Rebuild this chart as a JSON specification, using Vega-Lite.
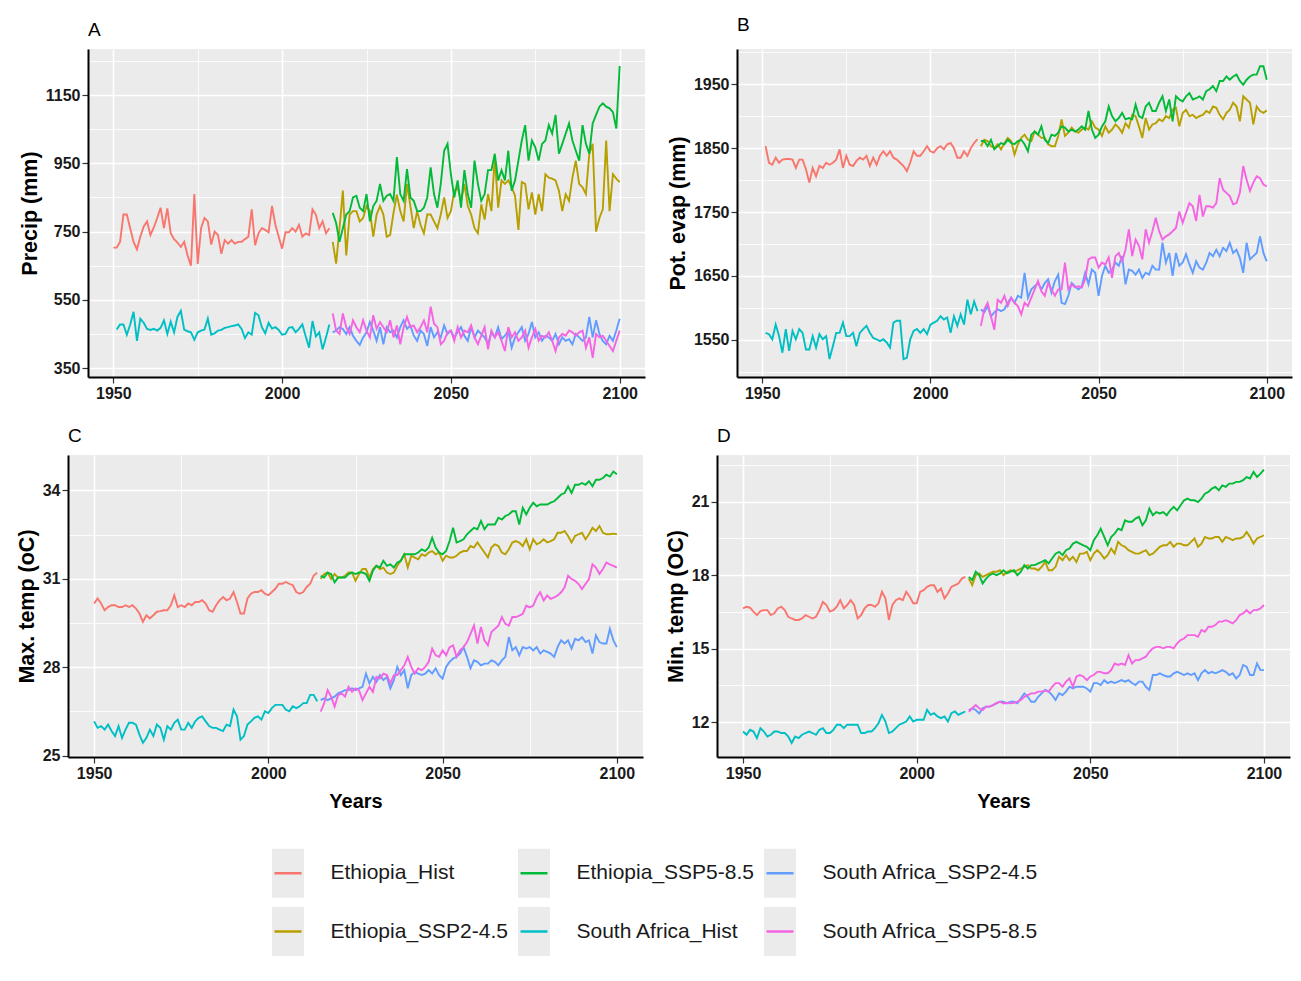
{
"$schema": "https://vega.github.io/schema/vega-lite/v6.json",
"background": "white",
"padding": {"left": -10, "top": 16, "right": 5, "bottom": 5},
"datasets": {
"names": [{"k":"EH","series":"Ethiopia_Hist"},{"k":"E2","series":"Ethiopia_SSP2-4.5"},{"k":"E5","series":"Ethiopia_SSP5-8.5"},{"k":"SH","series":"South Africa_Hist"},{"k":"S2","series":"South Africa_SSP2-4.5"},{"k":"S5","series":"South Africa_SSP5-8.5"}],
"A": [
{"y":1950,"EH":703},{"y":1951,"EH":703,"SH":463},{"y":1952,"EH":720,"SH":478},{"y":1953,"EH":800,"SH":478},{"y":1954,"EH":800,"SH":448},{"y":1955,"EH":760,"SH":478},{"y":1956,"EH":720,"SH":515},{"y":1957,"EH":698,"SH":430},{"y":1958,"EH":735,"SH":495},{"y":1959,"EH":765,"SH":483},
{"y":1960,"EH":780,"SH":465},{"y":1961,"EH":740,"SH":462},{"y":1962,"EH":762,"SH":465},{"y":1963,"EH":790,"SH":460},{"y":1964,"EH":820,"SH":468},{"y":1965,"EH":760,"SH":490},{"y":1966,"EH":818,"SH":450},{"y":1967,"EH":745,"SH":486},{"y":1968,"EH":728,"SH":455},{"y":1969,"EH":718,"SH":500},
{"y":1970,"EH":705,"SH":518},{"y":1971,"EH":720,"SH":463},{"y":1972,"EH":680,"SH":458},{"y":1973,"EH":650,"SH":455},{"y":1974,"EH":860,"SH":433},{"y":1975,"EH":655,"SH":455},{"y":1976,"EH":760,"SH":460},{"y":1977,"EH":790,"SH":463},{"y":1978,"EH":780,"SH":495},{"y":1979,"EH":712,"SH":448},
{"y":1980,"EH":750,"SH":452},{"y":1981,"EH":740,"SH":460},{"y":1982,"EH":685,"SH":462},{"y":1983,"EH":725,"SH":468},{"y":1984,"EH":715,"SH":470},{"y":1985,"EH":725,"SH":473},{"y":1986,"EH":715,"SH":475},{"y":1987,"EH":720,"SH":478},{"y":1988,"EH":720,"SH":465},{"y":1989,"EH":728,"SH":438},
{"y":1990,"EH":735,"SH":455},{"y":1991,"EH":815,"SH":448},{"y":1992,"EH":710,"SH":512},{"y":1993,"EH":745,"SH":505},{"y":1994,"EH":760,"SH":470},{"y":1995,"EH":755,"SH":452},{"y":1996,"EH":748,"SH":483},{"y":1997,"EH":825,"SH":466},{"y":1998,"EH":770,"SH":470},{"y":1999,"EH":735,"SH":462},
{"y":2000,"EH":700,"SH":448},{"y":2001,"EH":748,"SH":450},{"y":2002,"EH":748,"SH":468},{"y":2003,"EH":760,"SH":470},{"y":2004,"EH":750,"SH":455},{"y":2005,"EH":770,"SH":465},{"y":2006,"EH":735,"SH":478},{"y":2007,"EH":745,"SH":443},{"y":2008,"EH":740,"SH":410},{"y":2009,"EH":815,"SH":488},
{"y":2010,"EH":800,"SH":443},{"y":2011,"EH":760,"SH":455},{"y":2012,"EH":780,"SH":405},{"y":2013,"EH":745,"SH":440},{"y":2014,"EH":760,"SH":478},
{"y":2015,"E2":720,"E5":805,"S2":455,"S5":510},{"y":2016,"E2":656,"E5":775,"S2":460,"S5":460},{"y":2017,"E2":760,"E5":720,"S2":470,"S5":450},{"y":2018,"E2":870,"E5":760,"S2":465,"S5":510},{"y":2019,"E2":680,"E5":800,"S2":450,"S5":470},
{"y":2020,"E2":800,"E5":810,"S2":470,"S5":450},{"y":2021,"E2":810,"E5":850,"S2":445,"S5":490},{"y":2022,"E2":810,"E5":855,"S2":430,"S5":470},{"y":2023,"E2":780,"E5":820,"S2":418,"S5":455},{"y":2024,"E2":790,"E5":810,"S2":440,"S5":490},
{"y":2025,"E2":825,"E5":860,"S2":455,"S5":460},{"y":2026,"E2":810,"E5":780,"S2":485,"S5":440},{"y":2027,"E2":735,"E5":825,"S2":460,"S5":505},{"y":2028,"E2":800,"E5":840,"S2":430,"S5":465},{"y":2029,"E2":825,"E5":890,"S2":470,"S5":485},
{"y":2030,"E2":800,"E5":840,"S2":420,"S5":470},{"y":2031,"E2":735,"E5":855,"S2":470,"S5":455},{"y":2032,"E2":740,"E5":860,"S2":455,"S5":490},{"y":2033,"E2":805,"E5":840,"S2":460,"S5":440},{"y":2034,"E2":858,"E5":968,"S2":440,"S5":475},
{"y":2035,"E2":810,"E5":860,"S2":470,"S5":420},{"y":2036,"E2":780,"E5":840,"S2":490,"S5":470},{"y":2037,"E2":890,"E5":933,"S2":465,"S5":500},{"y":2038,"E2":825,"E5":850,"S2":475,"S5":470},{"y":2039,"E2":760,"E5":840,"S2":445,"S5":475},
{"y":2040,"E2":810,"E5":810,"S2":430,"S5":455},{"y":2041,"E2":770,"E5":810,"S2":460,"S5":470},{"y":2042,"E2":745,"E5":820,"S2":450,"S5":490},{"y":2043,"E2":800,"E5":850,"S2":415,"S5":455},{"y":2044,"E2":800,"E5":938,"S2":470,"S5":530},
{"y":2045,"E2":780,"E5":860,"S2":440,"S5":480},{"y":2046,"E2":760,"E5":820,"S2":455,"S5":470},{"y":2047,"E2":800,"E5":890,"S2":440,"S5":420},{"y":2048,"E2":850,"E5":987,"S2":475,"S5":430},{"y":2049,"E2":790,"E5":1007,"S2":450,"S5":455},
{"y":2050,"E2":810,"E5":918,"S2":460,"S5":460},{"y":2051,"E2":870,"E5":850,"S2":440,"S5":430},{"y":2052,"E2":880,"E5":900,"S2":455,"S5":470},{"y":2053,"E2":840,"E5":820,"S2":470,"S5":440},{"y":2054,"E2":890,"E5":930,"S2":445,"S5":460},
{"y":2055,"E2":825,"E5":860,"S2":430,"S5":455},{"y":2056,"E2":800,"E5":820,"S2":470,"S5":475},{"y":2057,"E2":760,"E5":958,"S2":440,"S5":440},{"y":2058,"E2":745,"E5":890,"S2":460,"S5":420},{"y":2059,"E2":830,"E5":840,"S2":450,"S5":445},
{"y":2060,"E2":785,"E5":860,"S2":440,"S5":470},{"y":2061,"E2":860,"E5":930,"S2":420,"S5":405},{"y":2062,"E2":810,"E5":930,"S2":455,"S5":460},{"y":2063,"E2":968,"E5":978,"S2":440,"S5":440},{"y":2064,"E2":820,"E5":900,"S2":470,"S5":455},
{"y":2065,"E2":900,"E5":930,"S2":435,"S5":430},{"y":2066,"E2":890,"E5":900,"S2":445,"S5":400},{"y":2067,"E2":900,"E5":987,"S2":460,"S5":470},{"y":2068,"E2":880,"E5":870,"S2":410,"S5":440},{"y":2069,"E2":855,"E5":900,"S2":440,"S5":455},
{"y":2070,"E2":755,"E5":958,"S2":455,"S5":430},{"y":2071,"E2":895,"E5":1017,"S2":470,"S5":440},{"y":2072,"E2":890,"E5":1062,"S2":430,"S5":460},{"y":2073,"E2":815,"E5":958,"S2":450,"S5":410},{"y":2074,"E2":865,"E5":1017,"S2":485,"S5":440},
{"y":2075,"E2":800,"E5":997,"S2":440,"S5":465},{"y":2076,"E2":860,"E5":958,"S2":455,"S5":430},{"y":2077,"E2":810,"E5":1007,"S2":430,"S5":445},{"y":2078,"E2":918,"E5":1017,"S2":445,"S5":440},{"y":2079,"E2":908,"E5":1062,"S2":440,"S5":455},
{"y":2080,"E2":905,"E5":1037,"S2":430,"S5":430},{"y":2081,"E2":900,"E5":1092,"S2":450,"S5":400},{"y":2082,"E2":870,"E5":978,"S2":420,"S5":440},{"y":2083,"E2":810,"E5":1007,"S2":440,"S5":450},{"y":2084,"E2":860,"E5":1037,"S2":430,"S5":445},
{"y":2085,"E2":840,"E5":1067,"S2":435,"S5":460},{"y":2086,"E2":908,"E5":1017,"S2":420,"S5":455},{"y":2087,"E2":958,"E5":987,"S2":450,"S5":445},{"y":2088,"E2":890,"E5":958,"S2":440,"S5":455},{"y":2089,"E2":880,"E5":1062,"S2":430,"S5":460},
{"y":2090,"E2":860,"E5":1007,"S2":440,"S5":410},{"y":2091,"E2":978,"E5":978,"S2":500,"S5":440},{"y":2092,"E2":1007,"E5":1067,"S2":440,"S5":380},{"y":2093,"E2":750,"E5":1092,"S2":490,"S5":450},{"y":2094,"E2":790,"E5":1116,"S2":450,"S5":440},
{"y":2095,"E2":815,"E5":1126,"S2":430,"S5":445},{"y":2096,"E2":1017,"E5":1116,"S2":420,"S5":430},{"y":2097,"E2":810,"E5":1111,"S2":445,"S5":415},{"y":2098,"E2":918,"E5":1100,"S2":430,"S5":400},{"y":2099,"E2":905,"E5":1052,"S2":460,"S5":430},
{"y":2100,"E2":895,"E5":1235,"S2":495,"S5":460}
],
"B": [
{"y":1951,"EH":1853,"SH":1561},{"y":1952,"EH":1827,"SH":1559},{"y":1953,"EH":1824,"SH":1551},{"y":1954,"EH":1835,"SH":1574},{"y":1955,"EH":1827,"SH":1556},{"y":1956,"EH":1832,"SH":1530},{"y":1957,"EH":1833,"SH":1567},{"y":1958,"EH":1833,"SH":1533},{"y":1959,"EH":1832,"SH":1564},
{"y":1960,"EH":1819,"SH":1551},{"y":1961,"EH":1832,"SH":1567},{"y":1962,"EH":1832,"SH":1561},{"y":1963,"EH":1817,"SH":1535},{"y":1964,"EH":1796,"SH":1535},{"y":1965,"EH":1819,"SH":1556},{"y":1966,"EH":1806,"SH":1538},{"y":1967,"EH":1822,"SH":1559},{"y":1968,"EH":1819,"SH":1551},{"y":1969,"EH":1827,"SH":1556},
{"y":1970,"EH":1824,"SH":1520},{"y":1971,"EH":1827,"SH":1540},{"y":1972,"EH":1832,"SH":1561},{"y":1973,"EH":1848,"SH":1561},{"y":1974,"EH":1819,"SH":1577},{"y":1975,"EH":1838,"SH":1556},{"y":1976,"EH":1824,"SH":1556},{"y":1977,"EH":1822,"SH":1561},{"y":1978,"EH":1830,"SH":1540},{"y":1979,"EH":1835,"SH":1561},
{"y":1980,"EH":1832,"SH":1567},{"y":1981,"EH":1838,"SH":1572},{"y":1982,"EH":1822,"SH":1561},{"y":1983,"EH":1835,"SH":1553},{"y":1984,"EH":1824,"SH":1551},{"y":1985,"EH":1838,"SH":1548},{"y":1986,"EH":1845,"SH":1551},{"y":1987,"EH":1838,"SH":1546},{"y":1988,"EH":1845,"SH":1538},{"y":1989,"EH":1835,"SH":1577},
{"y":1990,"EH":1832,"SH":1580},{"y":1991,"EH":1827,"SH":1580},{"y":1992,"EH":1822,"SH":1520},{"y":1993,"EH":1814,"SH":1522},{"y":1994,"EH":1827,"SH":1551},{"y":1995,"EH":1845,"SH":1564},{"y":1996,"EH":1838,"SH":1567},{"y":1997,"EH":1838,"SH":1561},{"y":1998,"EH":1845,"SH":1567},{"y":1999,"EH":1853,"SH":1559},
{"y":2000,"EH":1845,"SH":1574},{"y":2001,"EH":1843,"SH":1577},{"y":2002,"EH":1850,"SH":1580},{"y":2003,"EH":1853,"SH":1587},{"y":2004,"EH":1848,"SH":1582},{"y":2005,"EH":1856,"SH":1585},{"y":2006,"EH":1858,"SH":1561},{"y":2007,"EH":1850,"SH":1587},{"y":2008,"EH":1835,"SH":1572},{"y":2009,"EH":1835,"SH":1590},
{"y":2010,"EH":1845,"SH":1574},{"y":2011,"EH":1838,"SH":1613},{"y":2012,"EH":1850,"SH":1590},{"y":2013,"EH":1858,"SH":1610},{"y":2014,"EH":1864,"SH":1595},
{"y":2015,"E2":1853,"E5":1861,"S2":1598,"S5":1572},{"y":2016,"E2":1863,"E5":1861,"S2":1593,"S5":1598},{"y":2017,"E2":1861,"E5":1853,"S2":1603,"S5":1608},{"y":2018,"E2":1853,"E5":1863,"S2":1587,"S5":1587},{"y":2019,"E2":1850,"E5":1848,"S2":1593,"S5":1566},
{"y":2020,"E2":1856,"E5":1853,"S2":1598,"S5":1613},{"y":2021,"E2":1848,"E5":1858,"S2":1595,"S5":1608},{"y":2022,"E2":1858,"E5":1856,"S2":1598,"S5":1619},{"y":2023,"E2":1866,"E5":1863,"S2":1608,"S5":1603},{"y":2024,"E2":1861,"E5":1858,"S2":1616,"S5":1616},
{"y":2025,"E2":1840,"E5":1856,"S2":1608,"S5":1608},{"y":2026,"E2":1856,"E5":1861,"S2":1619,"S5":1603},{"y":2027,"E2":1866,"E5":1863,"S2":1616,"S5":1590},{"y":2028,"E2":1871,"E5":1856,"S2":1655,"S5":1608},{"y":2029,"E2":1863,"E5":1845,"S2":1616,"S5":1603},
{"y":2030,"E2":1861,"E5":1871,"S2":1629,"S5":1616},{"y":2031,"E2":1876,"E5":1876,"S2":1634,"S5":1629},{"y":2032,"E2":1871,"E5":1871,"S2":1639,"S5":1642},{"y":2033,"E2":1866,"E5":1884,"S2":1629,"S5":1626},{"y":2034,"E2":1866,"E5":1863,"S2":1639,"S5":1619},
{"y":2035,"E2":1856,"E5":1858,"S2":1645,"S5":1639},{"y":2036,"E2":1853,"E5":1871,"S2":1624,"S5":1629},{"y":2037,"E2":1853,"E5":1869,"S2":1642,"S5":1619},{"y":2038,"E2":1869,"E5":1874,"S2":1652,"S5":1629},{"y":2039,"E2":1895,"E5":1884,"S2":1608,"S5":1629},
{"y":2040,"E2":1869,"E5":1882,"S2":1606,"S5":1671},{"y":2041,"E2":1874,"E5":1876,"S2":1619,"S5":1629},{"y":2042,"E2":1882,"E5":1879,"S2":1639,"S5":1637},{"y":2043,"E2":1876,"E5":1876,"S2":1634,"S5":1632},{"y":2044,"E2":1874,"E5":1879,"S2":1629,"S5":1634},
{"y":2045,"E2":1879,"E5":1884,"S2":1634,"S5":1632},{"y":2046,"E2":1882,"E5":1879,"S2":1655,"S5":1645},{"y":2047,"E2":1879,"E5":1908,"S2":1637,"S5":1676},{"y":2048,"E2":1892,"E5":1879,"S2":1660,"S5":1679},{"y":2049,"E2":1882,"E5":1866,"S2":1655,"S5":1679},
{"y":2050,"E2":1879,"E5":1871,"S2":1619,"S5":1663},{"y":2051,"E2":1869,"E5":1884,"S2":1650,"S5":1671},{"y":2052,"E2":1884,"E5":1892,"S2":1666,"S5":1668},{"y":2053,"E2":1874,"E5":1915,"S2":1655,"S5":1679},{"y":2054,"E2":1879,"E5":1900,"S2":1660,"S5":1647},
{"y":2055,"E2":1887,"E5":1892,"S2":1671,"S5":1681},{"y":2056,"E2":1882,"E5":1897,"S2":1666,"S5":1686},{"y":2057,"E2":1874,"E5":1905,"S2":1681,"S5":1673},{"y":2058,"E2":1889,"E5":1895,"S2":1637,"S5":1691},{"y":2059,"E2":1882,"E5":1897,"S2":1660,"S5":1723},
{"y":2060,"E2":1902,"E5":1895,"S2":1658,"S5":1681},{"y":2061,"E2":1900,"E5":1918,"S2":1652,"S5":1707},{"y":2062,"E2":1884,"E5":1900,"S2":1660,"S5":1697},{"y":2063,"E2":1866,"E5":1897,"S2":1647,"S5":1676},{"y":2064,"E2":1897,"E5":1915,"S2":1655,"S5":1723},
{"y":2065,"E2":1879,"E5":1921,"S2":1652,"S5":1702},{"y":2066,"E2":1887,"E5":1908,"S2":1666,"S5":1720},{"y":2067,"E2":1889,"E5":1908,"S2":1660,"S5":1741},{"y":2068,"E2":1895,"E5":1921,"S2":1660,"S5":1720},{"y":2069,"E2":1892,"E5":1931,"S2":1702,"S5":1707},
{"y":2070,"E2":1900,"E5":1908,"S2":1671,"S5":1712},{"y":2071,"E2":1897,"E5":1926,"S2":1686,"S5":1715},{"y":2072,"E2":1910,"E5":1892,"S2":1650,"S5":1720},{"y":2073,"E2":1913,"E5":1931,"S2":1686,"S5":1725},{"y":2074,"E2":1884,"E5":1926,"S2":1666,"S5":1751},
{"y":2075,"E2":1905,"E5":1923,"S2":1671,"S5":1733},{"y":2076,"E2":1910,"E5":1931,"S2":1684,"S5":1749},{"y":2077,"E2":1900,"E5":1936,"S2":1668,"S5":1764},{"y":2078,"E2":1902,"E5":1926,"S2":1655,"S5":1759},{"y":2079,"E2":1897,"E5":1928,"S2":1673,"S5":1736},
{"y":2080,"E2":1900,"E5":1931,"S2":1663,"S5":1777},{"y":2081,"E2":1902,"E5":1926,"S2":1660,"S5":1743},{"y":2082,"E2":1908,"E5":1939,"S2":1671,"S5":1759},{"y":2083,"E2":1905,"E5":1942,"S2":1686,"S5":1759},{"y":2084,"E2":1915,"E5":1947,"S2":1681,"S5":1757},
{"y":2085,"E2":1913,"E5":1939,"S2":1691,"S5":1764},{"y":2086,"E2":1902,"E5":1955,"S2":1681,"S5":1803},{"y":2087,"E2":1895,"E5":1955,"S2":1694,"S5":1785},{"y":2088,"E2":1905,"E5":1962,"S2":1689,"S5":1780},{"y":2089,"E2":1910,"E5":1957,"S2":1702,"S5":1775},
{"y":2090,"E2":1921,"E5":1962,"S2":1686,"S5":1762},{"y":2091,"E2":1915,"E5":1965,"S2":1691,"S5":1764},{"y":2092,"E2":1892,"E5":1955,"S2":1678,"S5":1780},{"y":2093,"E2":1931,"E5":1949,"S2":1655,"S5":1822},{"y":2094,"E2":1926,"E5":1957,"S2":1702,"S5":1801},
{"y":2095,"E2":1921,"E5":1962,"S2":1676,"S5":1783},{"y":2096,"E2":1887,"E5":1965,"S2":1681,"S5":1796},{"y":2097,"E2":1915,"E5":1965,"S2":1686,"S5":1806},{"y":2098,"E2":1908,"E5":1978,"S2":1712,"S5":1803},{"y":2099,"E2":1905,"E5":1978,"S2":1686,"S5":1793},
{"y":2100,"E2":1909,"E5":1957,"S2":1673,"S5":1790}
],
"C": [
{"y":1950,"EH":30.16,"SH":26.16},{"y":1951,"EH":30.33,"SH":25.94},{"y":1952,"EH":30.16,"SH":26.0},{"y":1953,"EH":29.93,"SH":25.88},{"y":1954,"EH":30.04,"SH":26.05},{"y":1955,"EH":30.1,"SH":25.83},{"y":1956,"EH":30.1,"SH":25.66},{"y":1957,"EH":30.04,"SH":26.0},{"y":1958,"EH":30.04,"SH":25.6},{"y":1959,"EH":30.1,"SH":25.88},
{"y":1960,"EH":30.04,"SH":26.11},{"y":1961,"EH":30.1,"SH":26.11},{"y":1962,"EH":29.99,"SH":26.05},{"y":1963,"EH":29.82,"SH":25.71},{"y":1964,"EH":29.54,"SH":25.43},{"y":1965,"EH":29.76,"SH":25.6},{"y":1966,"EH":29.65,"SH":25.88},{"y":1967,"EH":29.76,"SH":25.66},{"y":1968,"EH":29.88,"SH":26.05},{"y":1969,"EH":29.9,"SH":25.94},
{"y":1970,"EH":29.93,"SH":25.54},{"y":1971,"EH":29.93,"SH":26.0},{"y":1972,"EH":30.1,"SH":25.88},{"y":1973,"EH":30.44,"SH":26.11},{"y":1974,"EH":30.04,"SH":26.22},{"y":1975,"EH":30.1,"SH":25.88},{"y":1976,"EH":30.04,"SH":25.88},{"y":1977,"EH":30.16,"SH":26.11},{"y":1978,"EH":30.1,"SH":25.94},{"y":1979,"EH":30.21,"SH":26.16},
{"y":1980,"EH":30.21,"SH":26.28},{"y":1981,"EH":30.27,"SH":26.33},{"y":1982,"EH":30.16,"SH":26.16},{"y":1983,"EH":29.93,"SH":26.0},{"y":1984,"EH":29.88,"SH":25.94},{"y":1985,"EH":30.1,"SH":25.94},{"y":1986,"EH":30.27,"SH":25.88},{"y":1987,"EH":30.38,"SH":25.83},{"y":1988,"EH":30.27,"SH":26.05},{"y":1989,"EH":30.33,"SH":26.0},
{"y":1990,"EH":30.55,"SH":26.56},{"y":1991,"EH":30.21,"SH":26.33},{"y":1992,"EH":29.82,"SH":25.54},{"y":1993,"EH":29.82,"SH":25.66},{"y":1994,"EH":30.33,"SH":26.05},{"y":1995,"EH":30.49,"SH":26.16},{"y":1996,"EH":30.55,"SH":26.28},{"y":1997,"EH":30.55,"SH":26.33},{"y":1998,"EH":30.61,"SH":26.22},{"y":1999,"EH":30.49,"SH":26.5},
{"y":2000,"EH":30.44,"SH":26.44},{"y":2001,"EH":30.55,"SH":26.61},{"y":2002,"EH":30.66,"SH":26.72},{"y":2003,"EH":30.83,"SH":26.72},{"y":2004,"EH":30.83,"SH":26.72},{"y":2005,"EH":30.89,"SH":26.56},{"y":2006,"EH":30.83,"SH":26.5},{"y":2007,"EH":30.78,"SH":26.67},{"y":2008,"EH":30.55,"SH":26.61},{"y":2009,"EH":30.49,"SH":26.67},
{"y":2010,"EH":30.55,"SH":26.78},{"y":2011,"EH":30.72,"SH":26.78},{"y":2012,"EH":30.83,"SH":27.06},{"y":2013,"EH":31.11,"SH":27.06},{"y":2014,"EH":31.2,"SH":26.84},
{"y":2015,"E2":30.99,"E5":31.1,"S2":26.88,"S5":26.49},{"y":2016,"E2":31.16,"E5":31.04,"S2":26.94,"S5":26.77},{"y":2017,"E2":31.21,"E5":31.21,"S2":26.88,"S5":27.22},{"y":2018,"E2":30.99,"E5":31.16,"S2":26.94,"S5":27.0},{"y":2019,"E2":31.16,"E5":30.88,"S2":27.0,"S5":26.66},
{"y":2020,"E2":31.04,"E5":31.04,"S2":27.11,"S5":27.05},{"y":2021,"E2":31.04,"E5":31.04,"S2":27.16,"S5":27.11},{"y":2022,"E2":31.1,"E5":31.04,"S2":27.22,"S5":27.0},{"y":2023,"E2":31.21,"E5":31.16,"S2":27.22,"S5":27.33},{"y":2024,"E2":31.21,"E5":31.21,"S2":27.28,"S5":27.16},
{"y":2025,"E2":30.93,"E5":31.16,"S2":27.22,"S5":27.28},{"y":2026,"E2":31.16,"E5":31.21,"S2":27.28,"S5":27.22},{"y":2027,"E2":31.33,"E5":31.21,"S2":27.33,"S5":26.88},{"y":2028,"E2":31.33,"E5":31.16,"S2":27.78,"S5":27.11},{"y":2029,"E2":31.04,"E5":30.93,"S2":27.45,"S5":27.33},
{"y":2030,"E2":31.33,"E5":31.27,"S2":27.67,"S5":27.16},{"y":2031,"E2":31.44,"E5":31.44,"S2":27.5,"S5":27.67},{"y":2032,"E2":31.33,"E5":31.38,"S2":27.73,"S5":27.61},{"y":2033,"E2":31.38,"E5":31.61,"S2":27.56,"S5":27.78},{"y":2034,"E2":31.21,"E5":31.44,"S2":27.67,"S5":27.73},
{"y":2035,"E2":31.16,"E5":31.49,"S2":27.28,"S5":27.45},{"y":2036,"E2":31.21,"E5":31.38,"S2":27.56,"S5":27.73},{"y":2037,"E2":31.44,"E5":31.55,"S2":28.01,"S5":27.73},{"y":2038,"E2":31.61,"E5":31.61,"S2":27.73,"S5":27.9},{"y":2039,"E2":31.83,"E5":31.83,"S2":27.9,"S5":28.06},
{"y":2040,"E2":31.38,"E5":31.83,"S2":27.28,"S5":28.35},{"y":2041,"E2":31.78,"E5":31.83,"S2":27.73,"S5":28.01},{"y":2042,"E2":31.72,"E5":31.83,"S2":27.84,"S5":27.78},{"y":2043,"E2":31.66,"E5":31.89,"S2":27.78,"S5":27.96},{"y":2044,"E2":31.83,"E5":32.0,"S2":27.73,"S5":27.9},
{"y":2045,"E2":31.78,"E5":31.94,"S2":27.78,"S5":28.01},{"y":2046,"E2":31.89,"E5":32.06,"S2":27.9,"S5":28.18},{"y":2047,"E2":31.94,"E5":32.39,"S2":27.78,"S5":28.63},{"y":2048,"E2":31.83,"E5":32.06,"S2":27.96,"S5":28.4},{"y":2049,"E2":31.89,"E5":31.89,"S2":27.73,"S5":28.35},
{"y":2050,"E2":31.61,"E5":31.83,"S2":27.61,"S5":28.57},{"y":2051,"E2":31.78,"E5":31.94,"S2":28.01,"S5":28.4},{"y":2052,"E2":31.72,"E5":32.28,"S2":28.18,"S5":28.68},{"y":2053,"E2":31.72,"E5":32.73,"S2":28.29,"S5":28.74},{"y":2054,"E2":31.78,"E5":32.23,"S2":28.35,"S5":28.35},
{"y":2055,"E2":31.89,"E5":32.28,"S2":28.46,"S5":28.57},{"y":2056,"E2":31.94,"E5":32.34,"S2":28.68,"S5":28.68},{"y":2057,"E2":31.94,"E5":32.51,"S2":28.35,"S5":28.85},{"y":2058,"E2":32.11,"E5":32.62,"S2":27.96,"S5":29.13},{"y":2059,"E2":32.06,"E5":32.73,"S2":28.23,"S5":29.41},
{"y":2060,"E2":32.23,"E5":32.68,"S2":28.18,"S5":28.8},{"y":2061,"E2":32.06,"E5":32.96,"S2":28.06,"S5":29.36},{"y":2062,"E2":31.89,"E5":32.68,"S2":28.12,"S5":28.91},{"y":2063,"E2":31.72,"E5":32.84,"S2":28.12,"S5":28.74},{"y":2064,"E2":32.06,"E5":32.84,"S2":28.23,"S5":29.19},
{"y":2065,"E2":32.17,"E5":32.84,"S2":28.18,"S5":29.3},{"y":2066,"E2":32.11,"E5":33.07,"S2":28.06,"S5":29.41},{"y":2067,"E2":31.89,"E5":33.01,"S2":28.23,"S5":29.7},{"y":2068,"E2":31.83,"E5":33.13,"S2":28.35,"S5":29.47},{"y":2069,"E2":32.0,"E5":33.18,"S2":29.02,"S5":29.41},
{"y":2070,"E2":32.23,"E5":33.29,"S2":28.57,"S5":29.7},{"y":2071,"E2":32.28,"E5":33.29,"S2":28.68,"S5":29.7},{"y":2072,"E2":32.23,"E5":32.84,"S2":28.4,"S5":29.75},{"y":2073,"E2":32.11,"E5":33.41,"S2":28.68,"S5":29.81},{"y":2074,"E2":32.34,"E5":33.18,"S2":28.63,"S5":30.09},
{"y":2075,"E2":32.0,"E5":33.41,"S2":28.68,"S5":30.03},{"y":2076,"E2":32.34,"E5":33.58,"S2":28.57,"S5":30.09},{"y":2077,"E2":32.17,"E5":33.46,"S2":28.68,"S5":30.37},{"y":2078,"E2":32.23,"E5":33.52,"S2":28.46,"S5":30.54},{"y":2079,"E2":32.34,"E5":33.52,"S2":28.57,"S5":30.26},
{"y":2080,"E2":32.23,"E5":33.52,"S2":28.52,"S5":30.43},{"y":2081,"E2":32.28,"E5":33.58,"S2":28.46,"S5":30.32},{"y":2082,"E2":32.34,"E5":33.63,"S2":28.35,"S5":30.37},{"y":2083,"E2":32.56,"E5":33.74,"S2":28.68,"S5":30.43},{"y":2084,"E2":32.56,"E5":33.86,"S2":28.91,"S5":30.54},
{"y":2085,"E2":32.62,"E5":33.91,"S2":28.8,"S5":30.71},{"y":2086,"E2":32.45,"E5":34.14,"S2":28.91,"S5":31.1},{"y":2087,"E2":32.23,"E5":33.91,"S2":28.63,"S5":30.99},{"y":2088,"E2":32.45,"E5":34.19,"S2":28.96,"S5":30.93},{"y":2089,"E2":32.51,"E5":34.19,"S2":28.91,"S5":30.82},
{"y":2090,"E2":32.56,"E5":34.25,"S2":29.02,"S5":30.65},{"y":2091,"E2":32.34,"E5":34.19,"S2":28.85,"S5":30.82},{"y":2092,"E2":32.51,"E5":34.31,"S2":28.91,"S5":30.99},{"y":2093,"E2":32.73,"E5":34.14,"S2":28.46,"S5":31.49},{"y":2094,"E2":32.62,"E5":34.36,"S2":29.08,"S5":31.38},
{"y":2095,"E2":32.79,"E5":34.36,"S2":28.85,"S5":31.16},{"y":2096,"E2":32.56,"E5":34.42,"S2":28.8,"S5":31.33},{"y":2097,"E2":32.51,"E5":34.53,"S2":28.8,"S5":31.55},{"y":2098,"E2":32.51,"E5":34.47,"S2":29.3,"S5":31.49},{"y":2099,"E2":32.53,"E5":34.64,"S2":28.91,"S5":31.44},
{"y":2100,"E2":32.51,"E5":34.55,"S2":28.68,"S5":31.38}
],
"D": [
{"y":1950,"EH":16.64,"SH":11.61},{"y":1951,"EH":16.71,"SH":11.48},{"y":1952,"EH":16.67,"SH":11.68},{"y":1953,"EH":16.51,"SH":11.61},{"y":1954,"EH":16.37,"SH":11.34},{"y":1955,"EH":16.53,"SH":11.75},{"y":1956,"EH":16.57,"SH":11.61},{"y":1957,"EH":16.57,"SH":11.41},{"y":1958,"EH":16.37,"SH":11.48},{"y":1959,"EH":16.44,"SH":11.61},
{"y":1960,"EH":16.64,"SH":11.61},{"y":1961,"EH":16.71,"SH":11.55},{"y":1962,"EH":16.57,"SH":11.55},{"y":1963,"EH":16.3,"SH":11.41},{"y":1964,"EH":16.23,"SH":11.14},{"y":1965,"EH":16.17,"SH":11.41},{"y":1966,"EH":16.17,"SH":11.34},{"y":1967,"EH":16.23,"SH":11.48},{"y":1968,"EH":16.37,"SH":11.55},{"y":1969,"EH":16.3,"SH":11.61},
{"y":1970,"EH":16.23,"SH":11.55},{"y":1971,"EH":16.3,"SH":11.48},{"y":1972,"EH":16.57,"SH":11.68},{"y":1973,"EH":16.91,"SH":11.75},{"y":1974,"EH":16.78,"SH":11.55},{"y":1975,"EH":16.51,"SH":11.55},{"y":1976,"EH":16.57,"SH":11.68},{"y":1977,"EH":16.71,"SH":11.89},{"y":1978,"EH":16.98,"SH":11.89},{"y":1979,"EH":16.64,"SH":11.75},
{"y":1980,"EH":16.78,"SH":11.89},{"y":1981,"EH":16.98,"SH":11.89},{"y":1982,"EH":16.78,"SH":11.89},{"y":1983,"EH":16.23,"SH":11.89},{"y":1984,"EH":16.37,"SH":11.55},{"y":1985,"EH":16.64,"SH":11.55},{"y":1986,"EH":16.78,"SH":11.61},{"y":1987,"EH":16.78,"SH":11.61},{"y":1988,"EH":16.71,"SH":11.75},{"y":1989,"EH":16.85,"SH":11.95},
{"y":1990,"EH":17.32,"SH":12.29},{"y":1991,"EH":17.05,"SH":12.02},{"y":1992,"EH":16.17,"SH":11.55},{"y":1993,"EH":16.78,"SH":11.61},{"y":1994,"EH":16.98,"SH":11.75},{"y":1995,"EH":17.05,"SH":11.89},{"y":1996,"EH":16.98,"SH":11.95},{"y":1997,"EH":17.32,"SH":12.02},{"y":1998,"EH":17.12,"SH":12.23},{"y":1999,"EH":16.85,"SH":12.02},
{"y":2000,"EH":16.85,"SH":12.09},{"y":2001,"EH":17.32,"SH":12.09},{"y":2002,"EH":17.39,"SH":12.09},{"y":2003,"EH":17.52,"SH":12.5},{"y":2004,"EH":17.59,"SH":12.29},{"y":2005,"EH":17.59,"SH":12.36},{"y":2006,"EH":17.32,"SH":12.23},{"y":2007,"EH":17.46,"SH":12.16},{"y":2008,"EH":17.05,"SH":12.23},{"y":2009,"EH":17.25,"SH":12.02},
{"y":2010,"EH":17.52,"SH":12.36},{"y":2011,"EH":17.59,"SH":12.43},{"y":2012,"EH":17.66,"SH":12.29},{"y":2013,"EH":17.86,"SH":12.36},{"y":2014,"EH":17.93,"SH":12.43},
{"y":2015,"E2":17.86,"E5":17.93,"S2":12.49,"S5":12.42},{"y":2016,"E2":17.59,"E5":17.8,"S2":12.56,"S5":12.56},{"y":2017,"E2":18.0,"E5":18.14,"S2":12.49,"S5":12.69},{"y":2018,"E2":18.07,"E5":18.0,"S2":12.35,"S5":12.56},{"y":2019,"E2":17.93,"E5":17.66,"S2":12.56,"S5":12.49},
{"y":2020,"E2":18.0,"E5":17.86,"S2":12.63,"S5":12.63},{"y":2021,"E2":18.07,"E5":18.0,"S2":12.63,"S5":12.63},{"y":2022,"E2":18.14,"E5":18.07,"S2":12.69,"S5":12.69},{"y":2023,"E2":18.14,"E5":18.0,"S2":12.76,"S5":12.78},{"y":2024,"E2":18.2,"E5":18.07,"S2":12.83,"S5":12.83},
{"y":2025,"E2":18.0,"E5":18.2,"S2":12.83,"S5":12.76},{"y":2026,"E2":18.14,"E5":18.07,"S2":12.76,"S5":12.78},{"y":2027,"E2":18.2,"E5":18.14,"S2":12.83,"S5":12.76},{"y":2028,"E2":18.14,"E5":18.2,"S2":12.83,"S5":12.78},{"y":2029,"E2":18.2,"E5":18.0,"S2":12.76,"S5":12.83},
{"y":2030,"E2":18.27,"E5":18.14,"S2":12.97,"S5":12.9},{"y":2031,"E2":18.34,"E5":18.41,"S2":13.17,"S5":13.03},{"y":2032,"E2":18.41,"E5":18.27,"S2":13.03,"S5":13.1},{"y":2033,"E2":18.27,"E5":18.41,"S2":12.83,"S5":13.17},{"y":2034,"E2":18.27,"E5":18.41,"S2":12.83,"S5":13.17},
{"y":2035,"E2":18.2,"E5":18.48,"S2":13.03,"S5":13.24},{"y":2036,"E2":18.34,"E5":18.54,"S2":13.17,"S5":13.24},{"y":2037,"E2":18.54,"E5":18.61,"S2":13.31,"S5":13.28},{"y":2038,"E2":18.2,"E5":18.48,"S2":13.24,"S5":13.24},{"y":2039,"E2":18.2,"E5":18.68,"S2":13.1,"S5":13.44},
{"y":2040,"E2":18.34,"E5":18.88,"S2":12.9,"S5":13.59},{"y":2041,"E2":18.75,"E5":18.95,"S2":13.17,"S5":13.59},{"y":2042,"E2":18.61,"E5":18.82,"S2":13.1,"S5":13.44},{"y":2043,"E2":18.82,"E5":19.02,"S2":13.24,"S5":13.65},{"y":2044,"E2":18.61,"E5":19.09,"S2":13.44,"S5":13.78},
{"y":2045,"E2":18.75,"E5":19.29,"S2":13.37,"S5":13.44},{"y":2046,"E2":18.54,"E5":19.36,"S2":13.44,"S5":13.86},{"y":2047,"E2":18.88,"E5":19.29,"S2":13.44,"S5":13.92},{"y":2048,"E2":18.88,"E5":19.22,"S2":13.44,"S5":13.86},{"y":2049,"E2":18.95,"E5":19.16,"S2":13.37,"S5":13.71},
{"y":2050,"E2":18.61,"E5":19.02,"S2":13.24,"S5":13.86},{"y":2051,"E2":18.88,"E5":19.43,"S2":13.59,"S5":13.92},{"y":2052,"E2":19.02,"E5":19.63,"S2":13.59,"S5":14.05},{"y":2053,"E2":18.88,"E5":19.9,"S2":13.51,"S5":14.05},{"y":2054,"E2":18.68,"E5":19.56,"S2":13.71,"S5":13.99},
{"y":2055,"E2":18.82,"E5":19.22,"S2":13.59,"S5":13.99},{"y":2056,"E2":19.09,"E5":19.56,"S2":13.65,"S5":14.12},{"y":2057,"E2":18.88,"E5":19.7,"S2":13.59,"S5":14.39},{"y":2058,"E2":19.36,"E5":19.9,"S2":13.65,"S5":14.33},{"y":2059,"E2":19.22,"E5":19.84,"S2":13.71,"S5":14.39},
{"y":2060,"E2":19.16,"E5":20.24,"S2":13.65,"S5":14.33},{"y":2061,"E2":19.02,"E5":20.18,"S2":13.71,"S5":14.73},{"y":2062,"E2":18.95,"E5":20.18,"S2":13.59,"S5":14.39},{"y":2063,"E2":18.88,"E5":20.31,"S2":13.51,"S5":14.53},{"y":2064,"E2":18.88,"E5":20.38,"S2":13.65,"S5":14.53},
{"y":2065,"E2":18.95,"E5":20.04,"S2":13.65,"S5":14.6},{"y":2066,"E2":19.02,"E5":20.24,"S2":13.44,"S5":14.67},{"y":2067,"E2":18.82,"E5":20.72,"S2":13.31,"S5":14.87},{"y":2068,"E2":18.88,"E5":20.45,"S2":13.92,"S5":15.01},{"y":2069,"E2":19.02,"E5":20.58,"S2":13.92,"S5":15.07},
{"y":2070,"E2":19.16,"E5":20.52,"S2":13.99,"S5":15.07},{"y":2071,"E2":19.22,"E5":20.58,"S2":13.92,"S5":15.01},{"y":2072,"E2":19.22,"E5":20.45,"S2":13.86,"S5":15.07},{"y":2073,"E2":19.36,"E5":20.65,"S2":13.86,"S5":15.07},{"y":2074,"E2":19.16,"E5":20.79,"S2":13.99,"S5":15.01},
{"y":2075,"E2":19.29,"E5":20.65,"S2":14.05,"S5":15.21},{"y":2076,"E2":19.29,"E5":20.86,"S2":13.99,"S5":15.35},{"y":2077,"E2":19.22,"E5":21.06,"S2":13.92,"S5":15.41},{"y":2078,"E2":19.22,"E5":21.13,"S2":13.99,"S5":15.55},{"y":2079,"E2":19.36,"E5":21.06,"S2":13.92,"S5":15.55},
{"y":2080,"E2":19.5,"E5":21.06,"S2":13.99,"S5":15.55},{"y":2081,"E2":19.16,"E5":20.99,"S2":13.71,"S5":15.48},{"y":2082,"E2":19.29,"E5":21.13,"S2":13.99,"S5":15.76},{"y":2083,"E2":19.56,"E5":21.33,"S2":14.12,"S5":15.69},{"y":2084,"E2":19.5,"E5":21.4,"S2":13.99,"S5":15.89},
{"y":2085,"E2":19.5,"E5":21.54,"S2":14.05,"S5":15.89},{"y":2086,"E2":19.56,"E5":21.61,"S2":13.99,"S5":15.96},{"y":2087,"E2":19.56,"E5":21.47,"S2":14.05,"S5":16.1},{"y":2088,"E2":19.36,"E5":21.67,"S2":14.12,"S5":16.1},{"y":2089,"E2":19.56,"E5":21.61,"S2":14.05,"S5":16.16},
{"y":2090,"E2":19.5,"E5":21.74,"S2":13.92,"S5":16.1},{"y":2091,"E2":19.43,"E5":21.74,"S2":13.99,"S5":16.03},{"y":2092,"E2":19.5,"E5":21.81,"S2":13.78,"S5":16.16},{"y":2093,"E2":19.5,"E5":21.81,"S2":13.92,"S5":16.37},{"y":2094,"E2":19.56,"E5":21.88,"S2":14.33,"S5":16.44},
{"y":2095,"E2":19.77,"E5":22.01,"S2":14.26,"S5":16.57},{"y":2096,"E2":19.56,"E5":21.95,"S2":13.92,"S5":16.44},{"y":2097,"E2":19.29,"E5":22.22,"S2":13.92,"S5":16.57},{"y":2098,"E2":19.5,"E5":22.01,"S2":14.39,"S5":16.57},{"y":2099,"E2":19.56,"E5":22.15,"S2":14.12,"S5":16.64},
{"y":2100,"E2":19.63,"E5":22.31,"S2":14.12,"S5":16.78}
]
},
"spacing": 26,
"vconcat": [
{"spacing": 22, "hconcat": [
{"width": 1, "height": 1, "view": {"fill": null, "stroke": null}, "data": {"name": "names"},
 "mark": {"type": "point", "filled": true, "opacity": 0},
 "encoding": {
  "fill": {"field": "series", "type": "nominal",
    "scale": {"range": ["#EBEBEB","#EBEBEB","#EBEBEB","#EBEBEB","#EBEBEB","#EBEBEB"]},
    "legend": {"symbolType": "M-0.653,-1H0.653V1H-0.653Z", "symbolStrokeColor": "transparent", "symbolStrokeWidth": 2.5, "symbolOpacity": 1, "labelOpacity": 0, "zindex": 1}}
 }},
{"width": 557, "height": 328, "title": "A", "data": {"name": "A"},
 "transform": [{"fold": ["EH","E2","E5","SH","S2","S5"], "as": ["k","v"]}, {"filter": "isValid(datum.v)"}, {"lookup": "k", "from": {"data": {"name": "names"}, "key": "k", "fields": ["series"]}}],
 "mark": {"type": "line", "strokeWidth": 1.9},
 "encoding": {
  "x": {"field": "y", "type": "quantitative", "scale": {"domain": [1942.5, 2107.5], "nice": false, "zero": false},
    "axis": {"title": null, "values": [1950,1975,2000,2025,2050,2075,2100], "format": "d", "labelExpr": "datum.value % 50 === 0 ? datum.label : ''", "tickOpacity": {"condition": {"test": "datum.value % 50 === 0", "value": 1}, "value": 0}, "gridWidth": {"condition": {"test": "datum.value % 50 === 0", "value": 1.6}, "value": 0.8}}},
  "y": {"field": "v", "type": "quantitative", "scale": {"domain": [324, 1285], "nice": false, "zero": false},
    "axis": {"title": "Precip (mm)", "values": [350,450,550,650,750,850,950,1050,1150,1250], "format": "d", "labelExpr": "(datum.value - 350) % 200 === 0 ? datum.label : ''", "tickOpacity": {"condition": {"test": "(datum.value - 350) % 200 === 0", "value": 1}, "value": 0}, "gridWidth": {"condition": {"test": "(datum.value - 350) % 200 === 0", "value": 1.6}, "value": 0.8}}},
  "stroke": {"field": "series", "type": "nominal",
    "scale": {"domain": ["Ethiopia_Hist","Ethiopia_SSP2-4.5","Ethiopia_SSP5-8.5","South Africa_Hist","South Africa_SSP2-4.5","South Africa_SSP5-8.5"], "range": ["#F8766D","#B79F00","#00BA38","#00BFC4","#619CFF","#F564E3"]},
    "legend": {"symbolType": "M-0.653,-1M0.653,1M-0.55,0H0.55", "symbolStrokeWidth": 2.5, "symbolFillColor": "transparent", "zindex": 2}}
 }},
{"width": 555, "height": 328, "title": "B", "data": {"name": "B"},
 "transform": [{"fold": ["EH","E2","E5","SH","S2","S5"], "as": ["k","v"]}, {"filter": "isValid(datum.v)"}, {"lookup": "k", "from": {"data": {"name": "names"}, "key": "k", "fields": ["series"]}}],
 "mark": {"type": "line", "strokeWidth": 1.9},
 "encoding": {
  "x": {"field": "y", "type": "quantitative", "scale": {"domain": [1942.5, 2107.5], "nice": false, "zero": false},
    "axis": {"title": null, "values": [1950,1975,2000,2025,2050,2075,2100], "format": "d", "labelExpr": "datum.value % 50 === 0 ? datum.label : ''", "tickOpacity": {"condition": {"test": "datum.value % 50 === 0", "value": 1}, "value": 0}, "gridWidth": {"condition": {"test": "datum.value % 50 === 0", "value": 1.6}, "value": 0.8}}},
  "y": {"field": "v", "type": "quantitative", "scale": {"domain": [1492, 2005], "nice": false, "zero": false},
    "axis": {"title": "Pot. evap (mm)", "values": [1500,1550,1600,1650,1700,1750,1800,1850,1900,1950,2000], "format": "d", "labelExpr": "(datum.value - 1550) % 100 === 0 ? datum.label : ''", "tickOpacity": {"condition": {"test": "(datum.value - 1550) % 100 === 0", "value": 1}, "value": 0}, "gridWidth": {"condition": {"test": "(datum.value - 1550) % 100 === 0", "value": 1.6}, "value": 0.8}}},
  "stroke": {"field": "series", "type": "nominal",
    "scale": {"domain": ["Ethiopia_Hist","Ethiopia_SSP2-4.5","Ethiopia_SSP5-8.5","South Africa_Hist","South Africa_SSP2-4.5","South Africa_SSP5-8.5"], "range": ["#F8766D","#B79F00","#00BA38","#00BFC4","#619CFF","#F564E3"]}}
 }}
]},
{"spacing": 22, "hconcat": [
{"width": 1, "height": 1, "view": {"fill": null, "stroke": null}, "data": {"values": []}, "mark": {"type": "point", "opacity": 0}},
{"width": 575, "height": 302, "title": "C", "data": {"name": "C"},
 "transform": [{"fold": ["EH","E2","E5","SH","S2","S5"], "as": ["k","v"]}, {"filter": "isValid(datum.v)"}, {"lookup": "k", "from": {"data": {"name": "names"}, "key": "k", "fields": ["series"]}}],
 "mark": {"type": "line", "strokeWidth": 1.9},
 "encoding": {
  "x": {"field": "y", "type": "quantitative", "scale": {"domain": [1942.5, 2107.5], "nice": false, "zero": false},
    "axis": {"title": "Years", "values": [1950,1975,2000,2025,2050,2075,2100], "format": "d", "labelExpr": "datum.value % 50 === 0 ? datum.label : ''", "tickOpacity": {"condition": {"test": "datum.value % 50 === 0", "value": 1}, "value": 0}, "gridWidth": {"condition": {"test": "datum.value % 50 === 0", "value": 1.6}, "value": 0.8}}},
  "y": {"field": "v", "type": "quantitative", "scale": {"domain": [24.95, 35.2], "nice": false, "zero": false},
    "axis": {"title": "Max. temp (oC)", "values": [25,26.5,28,29.5,31,32.5,34], "format": "d", "labelExpr": "datum.value % 3 === 1 ? datum.label : ''", "tickOpacity": {"condition": {"test": "datum.value % 3 === 1", "value": 1}, "value": 0}, "gridWidth": {"condition": {"test": "datum.value % 3 === 1", "value": 1.6}, "value": 0.8}}},
  "stroke": {"field": "series", "type": "nominal",
    "scale": {"domain": ["Ethiopia_Hist","Ethiopia_SSP2-4.5","Ethiopia_SSP5-8.5","South Africa_Hist","South Africa_SSP2-4.5","South Africa_SSP5-8.5"], "range": ["#F8766D","#B79F00","#00BA38","#00BFC4","#619CFF","#F564E3"]}}
 }},
{"width": 573, "height": 302, "title": "D", "data": {"name": "D"},
 "transform": [{"fold": ["EH","E2","E5","SH","S2","S5"], "as": ["k","v"]}, {"filter": "isValid(datum.v)"}, {"lookup": "k", "from": {"data": {"name": "names"}, "key": "k", "fields": ["series"]}}],
 "mark": {"type": "line", "strokeWidth": 1.9},
 "encoding": {
  "x": {"field": "y", "type": "quantitative", "scale": {"domain": [1942.5, 2107.5], "nice": false, "zero": false},
    "axis": {"title": "Years", "values": [1950,1975,2000,2025,2050,2075,2100], "format": "d", "labelExpr": "datum.value % 50 === 0 ? datum.label : ''", "tickOpacity": {"condition": {"test": "datum.value % 50 === 0", "value": 1}, "value": 0}, "gridWidth": {"condition": {"test": "datum.value % 50 === 0", "value": 1.6}, "value": 0.8}}},
  "y": {"field": "v", "type": "quantitative", "scale": {"domain": [10.57, 22.91], "nice": false, "zero": false},
    "axis": {"title": "Min. temp (OC)", "values": [12,13.5,15,16.5,18,19.5,21,22.5], "format": "d", "labelExpr": "datum.value % 3 === 0 ? datum.label : ''", "tickOpacity": {"condition": {"test": "datum.value % 3 === 0", "value": 1}, "value": 0}, "gridWidth": {"condition": {"test": "datum.value % 3 === 0", "value": 1.6}, "value": 0.8}}},
  "stroke": {"field": "series", "type": "nominal",
    "scale": {"domain": ["Ethiopia_Hist","Ethiopia_SSP2-4.5","Ethiopia_SSP5-8.5","South Africa_Hist","South Africa_SSP2-4.5","South Africa_SSP5-8.5"], "range": ["#F8766D","#B79F00","#00BA38","#00BFC4","#619CFF","#F564E3"]}}
 }}
]}
],
"config": {
 "view": {"fill": "#EBEBEB", "stroke": null},
 "title": {"font": "Liberation Sans", "fontSize": 19, "fontWeight": "normal", "color": "black", "anchor": "start", "frame": "group", "offset": 9},
 "axis": {"domainColor": "black", "domainWidth": 2, "tickColor": "#333333", "tickSize": 6, "tickWidth": 1.2, "labelFont": "Liberation Sans", "labelFontSize": 16, "labelFontWeight": "bold", "labelColor": "#1a1a1a", "labelPadding": 2, "labelOverlap": false, "labelFlush": false, "titleFont": "Liberation Sans", "titleFontWeight": "bold", "titleColor": "black", "gridColor": "white"},
 "axisY": {"titleFontSize": 21.5, "titlePadding": 4},
 "axisX": {"titleFontSize": 20, "titlePadding": 10},
 "legend": {"orient": "none", "legendX": 269, "legendY": 798, "title": null, "columns": 3, "gridAlign": "each", "columnPadding": 0, "rowPadding": -1.5, "symbolSize": 2401, "labelOffset": 16.5, "labelFont": "Liberation Sans", "labelFontSize": 21, "labelColor": "#1a1a1a", "labelLimit": 400, "padding": 0, "offset": 0}
}
}
